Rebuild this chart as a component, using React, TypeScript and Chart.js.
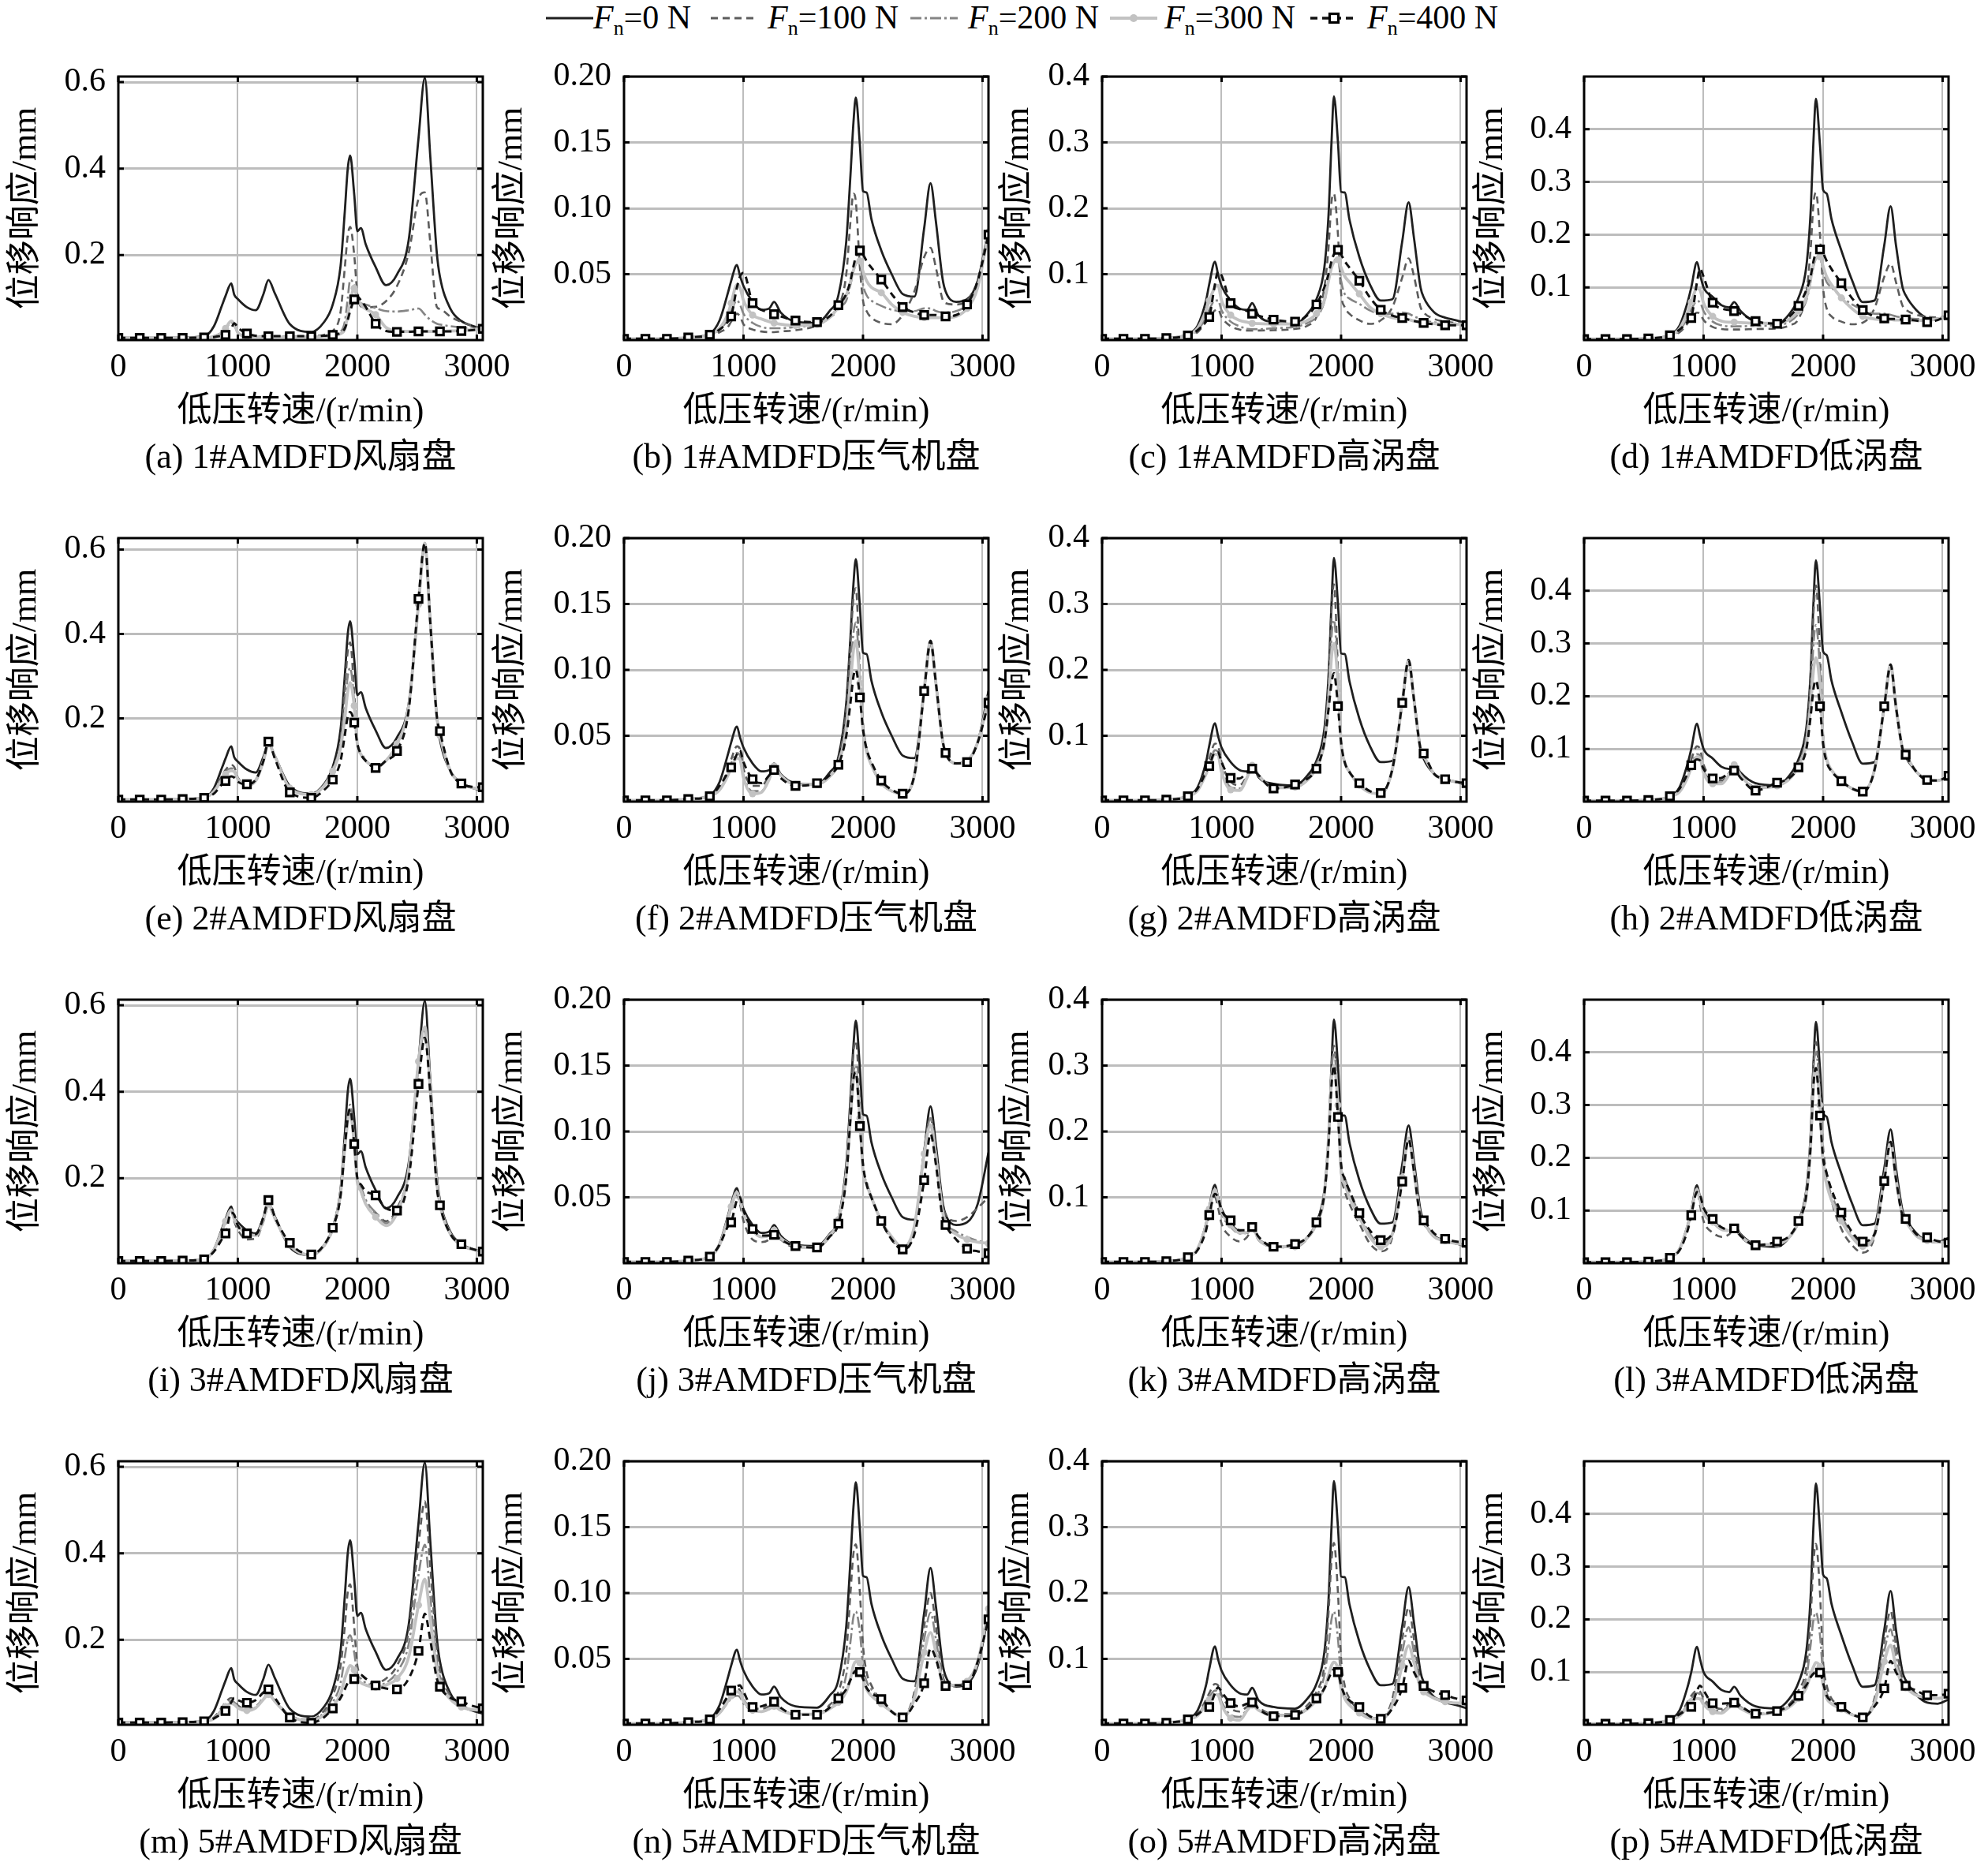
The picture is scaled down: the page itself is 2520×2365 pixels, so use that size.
import React, { useEffect, useRef } from 'react';
import { Chart, registerables } from 'chart.js';

Chart.register(...registerables);

const FONT = "'Liberation Serif', 'Times New Roman', 'Noto Sans CJK SC', serif";

// ---------------- data ----------------
const rpm = [0, 179, 359, 538, 718, 800, 870, 897, 945, 970, 1000, 1076, 1150, 1215, 1256, 1310, 1435, 1615, 1720, 1794, 1860, 1895, 1920, 1940, 1974, 2000, 2030, 2070, 2153, 2240, 2332, 2430, 2512, 2565, 2610, 2665, 2691, 2780, 2871, 2960, 3050];
const markerRpm = [0, 179, 359, 538, 718, 897, 1076, 1256, 1435, 1615, 1794, 1974, 2153, 2332, 2512, 2691, 2871, 3050];
const xTickValues = [0, 1000, 2000, 3000];
const forceLabels = ['0', '100', '200', '300', '400'];
const yTicksFan = [0.2, 0.4, 0.6];
const yTicksComp = [0.05, 0.1, 0.15, 0.2];
const yTicksHpt = [0.1, 0.2, 0.3, 0.4];
const yTicksLpt = [0.1, 0.2, 0.3, 0.4];

// Fn = 0 N (same system in every row)
const fan0 = [0.008,0.008,0.008,0.009,0.012, 0.035,0.085,0.105,0.134,0.108, 0.098,0.079,0.072,0.11,0.142, 0.111,0.04,0.022,0.044,0.085, 0.175,0.3,0.4,0.43,0.34, 0.255,0.262,0.225,0.172,0.13, 0.155,0.235,0.47,0.61,0.43, 0.205,0.15,0.075,0.047,0.036,0.029];
const comp0 = [0.001,0.001,0.001,0.002,0.005, 0.015,0.036,0.045,0.057,0.049, 0.041,0.029,0.023,0.024,0.029, 0.021,0.014,0.013,0.022,0.034, 0.075,0.125,0.165,0.184,0.148, 0.113,0.112,0.092,0.068,0.05, 0.035,0.033,0.085,0.119,0.09, 0.047,0.037,0.029,0.031,0.045,0.084];
const hpt0 = [0.002,0.002,0.002,0.003,0.009, 0.022,0.06,0.085,0.119,0.1, 0.082,0.06,0.048,0.046,0.056, 0.037,0.027,0.0245,0.04,0.062, 0.11,0.19,0.3,0.37,0.3, 0.225,0.224,0.183,0.126,0.085, 0.06,0.062,0.15,0.209,0.155, 0.08,0.065,0.042,0.034,0.03,0.025];
const lpt0 = [0.002,0.002,0.002,0.003,0.01, 0.028,0.075,0.1,0.148,0.125, 0.1,0.082,0.066,0.062,0.072, 0.055,0.035,0.031,0.05,0.08, 0.14,0.24,0.38,0.458,0.37, 0.285,0.278,0.23,0.17,0.115, 0.072,0.075,0.18,0.254,0.18, 0.1,0.085,0.057,0.042,0.04,0.048];

// 1# AMDFD
const a100 = [0.008,0.008,0.008,0.008,0.009, 0.012,0.022,0.03,0.045,0.04, 0.02,0.012,0.011,0.011,0.011, 0.011,0.011,0.012,0.015,0.024, 0.069,0.17,0.245,0.265,0.2, 0.11,0.081,0.079,0.08,0.093, 0.128,0.205,0.33,0.345,0.23, 0.08,0.075,0.057,0.045,0.036,0.029];
const a200 = [0.008,0.008,0.008,0.008,0.009, 0.011,0.02,0.028,0.044,0.038, 0.02,0.011,0.01,0.01,0.01, 0.01,0.01,0.01,0.012,0.015, 0.022,0.045,0.1,0.142,0.13, 0.095,0.088,0.085,0.077,0.07, 0.069,0.072,0.076,0.062,0.05, 0.041,0.039,0.035,0.032,0.03,0.029];
const a300 = [0.008,0.008,0.008,0.008,0.009, 0.011,0.021,0.03,0.047,0.04, 0.02,0.011,0.01,0.01,0.01, 0.01,0.01,0.01,0.011,0.013, 0.018,0.028,0.06,0.09,0.123, 0.1,0.085,0.075,0.062,0.032, 0.024,0.023,0.023,0.023,0.023, 0.023,0.023,0.024,0.025,0.027,0.029];
const a400 = [0.008,0.008,0.008,0.008,0.009, 0.01,0.013,0.015,0.03,0.042, 0.032,0.018,0.013,0.012,0.012, 0.012,0.012,0.012,0.013,0.015, 0.02,0.03,0.05,0.07,0.097, 0.104,0.095,0.08,0.041,0.024, 0.022,0.022,0.023,0.023,0.023, 0.023,0.023,0.023,0.024,0.026,0.029];
const b100 = [0.001,0.001,0.001,0.002,0.003, 0.006,0.01,0.014,0.02,0.018, 0.012,0.008,0.0065,0.006,0.006, 0.0065,0.0075,0.011,0.017,0.025, 0.05,0.09,0.111,0.105,0.055, 0.03,0.022,0.017,0.013,0.012, 0.019,0.037,0.063,0.07,0.055, 0.031,0.028,0.027,0.03,0.045,0.083];
const b200 = [0.001,0.001,0.001,0.002,0.004, 0.008,0.016,0.022,0.03,0.027, 0.02,0.013,0.01,0.009,0.009, 0.009,0.01,0.012,0.017,0.025, 0.03,0.042,0.052,0.058,0.06, 0.042,0.034,0.03,0.026,0.023, 0.022,0.022,0.024,0.024,0.022, 0.021,0.021,0.022,0.027,0.042,0.083];
const b300 = [0.001,0.001,0.001,0.002,0.004, 0.009,0.02,0.028,0.042,0.04, 0.03,0.019,0.016,0.014,0.013, 0.012,0.011,0.012,0.017,0.025, 0.034,0.044,0.053,0.058,0.06, 0.052,0.045,0.04,0.036,0.027, 0.021,0.018,0.017,0.017,0.017, 0.017,0.017,0.018,0.024,0.04,0.082];
const b400 = [0.001,0.001,0.001,0.002,0.004, 0.008,0.014,0.018,0.04,0.048, 0.051,0.028,0.023,0.021,0.0196, 0.018,0.0148,0.0136,0.018,0.0265, 0.035,0.045,0.056,0.063,0.068, 0.065,0.06,0.055,0.046,0.035, 0.025,0.021,0.019,0.019,0.019, 0.018,0.018,0.019,0.027,0.045,0.08];
const c100 = [0.002,0.002,0.002,0.003,0.006, 0.012,0.028,0.036,0.045,0.047, 0.035,0.021,0.016,0.0145,0.0145, 0.0145,0.015,0.017,0.022,0.035, 0.08,0.14,0.21,0.222,0.16, 0.072,0.05,0.04,0.03,0.0245, 0.03,0.05,0.095,0.124,0.097, 0.05,0.042,0.032,0.028,0.026,0.0245];
const c200 = [0.002,0.002,0.002,0.003,0.007, 0.015,0.035,0.046,0.06,0.06, 0.045,0.028,0.021,0.017,0.0165, 0.0165,0.018,0.02,0.026,0.035, 0.058,0.09,0.112,0.12,0.124, 0.09,0.07,0.063,0.055,0.045, 0.04,0.04,0.042,0.04,0.036, 0.032,0.03,0.027,0.026,0.025,0.0245];
const c300 = [0.002,0.002,0.002,0.003,0.008, 0.018,0.045,0.06,0.08,0.083, 0.06,0.038,0.03,0.027,0.0255, 0.025,0.0245,0.0245,0.03,0.04, 0.06,0.09,0.11,0.118,0.122, 0.11,0.097,0.088,0.07,0.05, 0.04,0.034,0.032,0.031,0.029, 0.027,0.026,0.025,0.024,0.024,0.0235];
const c400 = [0.002,0.002,0.002,0.003,0.007, 0.015,0.028,0.035,0.085,0.104, 0.098,0.056,0.047,0.044,0.04, 0.037,0.031,0.028,0.038,0.054, 0.08,0.1,0.12,0.13,0.137, 0.13,0.12,0.11,0.09,0.065, 0.046,0.037,0.0335,0.031,0.029, 0.027,0.026,0.024,0.0225,0.0225,0.0225];
const d100 = [0.002,0.002,0.002,0.003,0.007, 0.015,0.033,0.042,0.052,0.05, 0.038,0.025,0.021,0.02,0.02, 0.02,0.021,0.022,0.028,0.04, 0.09,0.17,0.26,0.28,0.2, 0.1,0.06,0.045,0.035,0.03, 0.033,0.06,0.12,0.145,0.11, 0.065,0.058,0.048,0.044,0.043,0.045];
const d200 = [0.002,0.002,0.002,0.003,0.008, 0.018,0.045,0.058,0.074,0.072, 0.055,0.035,0.028,0.026,0.026, 0.026,0.027,0.028,0.035,0.05, 0.075,0.11,0.14,0.155,0.161, 0.13,0.11,0.1,0.082,0.068, 0.058,0.05,0.05,0.048,0.045, 0.043,0.042,0.04,0.04,0.041,0.045];
const d300 = [0.002,0.002,0.002,0.003,0.009, 0.022,0.055,0.072,0.098,0.095, 0.07,0.045,0.036,0.034,0.034, 0.033,0.032,0.032,0.04,0.055, 0.08,0.115,0.145,0.155,0.158, 0.14,0.12,0.105,0.08,0.06, 0.045,0.04,0.039,0.039,0.038, 0.038,0.037,0.037,0.038,0.04,0.045];
const d400 = [0.002,0.002,0.002,0.003,0.009, 0.02,0.035,0.042,0.11,0.135, 0.12,0.071,0.06,0.057,0.055, 0.05,0.036,0.031,0.045,0.065, 0.095,0.12,0.15,0.165,0.172, 0.165,0.15,0.135,0.108,0.08, 0.057,0.045,0.041,0.04,0.04, 0.039,0.039,0.037,0.034,0.038,0.047];

// 2# AMDFD
const e100 = [0.008,0.008,0.008,0.009,0.012, 0.03,0.065,0.078,0.09,0.085, 0.06,0.045,0.055,0.1,0.14, 0.11,0.035,0.02,0.042,0.082, 0.15,0.27,0.36,0.38,0.26, 0.14,0.12,0.1,0.085,0.1, 0.14,0.23,0.47,0.615,0.43, 0.205,0.16,0.075,0.047,0.036,0.033];
const e200 = [0.008,0.008,0.008,0.009,0.012, 0.028,0.06,0.072,0.082,0.078, 0.058,0.043,0.053,0.1,0.14, 0.11,0.035,0.02,0.04,0.078, 0.14,0.23,0.3,0.32,0.24, 0.14,0.115,0.1,0.085,0.1, 0.14,0.23,0.47,0.615,0.43, 0.205,0.16,0.075,0.047,0.036,0.033];
const e300 = [0.008,0.008,0.008,0.009,0.012, 0.027,0.056,0.068,0.076,0.074, 0.056,0.042,0.052,0.1,0.14, 0.11,0.035,0.02,0.04,0.075, 0.13,0.2,0.265,0.285,0.23, 0.14,0.115,0.1,0.085,0.1, 0.14,0.23,0.47,0.615,0.43, 0.205,0.16,0.075,0.047,0.036,0.033];
const e400 = [0.008,0.008,0.008,0.009,0.012, 0.022,0.045,0.052,0.063,0.06, 0.05,0.044,0.055,0.1,0.145, 0.105,0.025,0.012,0.03,0.055, 0.1,0.16,0.205,0.215,0.19, 0.14,0.115,0.1,0.083,0.1, 0.123,0.22,0.483,0.615,0.43, 0.205,0.17,0.075,0.046,0.038,0.037];
const f100 = [0.001,0.001,0.001,0.002,0.004, 0.01,0.025,0.032,0.042,0.04, 0.025,0.012,0.012,0.02,0.027, 0.02,0.013,0.013,0.02,0.032, 0.07,0.12,0.155,0.162,0.1, 0.06,0.04,0.028,0.014,0.008, 0.006,0.02,0.085,0.122,0.09, 0.047,0.037,0.029,0.031,0.045,0.078];
const f200 = [0.001,0.001,0.001,0.002,0.004, 0.009,0.022,0.029,0.037,0.035, 0.02,0.008,0.008,0.018,0.027, 0.02,0.013,0.013,0.019,0.03, 0.06,0.1,0.128,0.136,0.095, 0.055,0.038,0.028,0.014,0.008, 0.006,0.02,0.085,0.122,0.09, 0.047,0.037,0.029,0.031,0.045,0.078];
const f300 = [0.001,0.001,0.001,0.002,0.004, 0.009,0.02,0.026,0.033,0.032, 0.018,0.006,0.007,0.017,0.027, 0.02,0.013,0.013,0.019,0.029, 0.055,0.09,0.115,0.122,0.09, 0.055,0.038,0.028,0.014,0.008, 0.006,0.02,0.085,0.122,0.09, 0.047,0.037,0.029,0.031,0.045,0.078];
const f400 = [0.001,0.001,0.001,0.002,0.004, 0.012,0.022,0.026,0.036,0.039, 0.03,0.017,0.014,0.02,0.024, 0.018,0.012,0.014,0.02,0.028, 0.05,0.075,0.095,0.1,0.079, 0.055,0.04,0.03,0.016,0.009, 0.006,0.02,0.084,0.122,0.09, 0.047,0.037,0.029,0.03,0.045,0.075];
const g100 = [0.002,0.002,0.002,0.003,0.008, 0.02,0.05,0.065,0.088,0.085, 0.06,0.03,0.025,0.04,0.055, 0.04,0.022,0.022,0.035,0.058, 0.1,0.18,0.29,0.33,0.2, 0.09,0.06,0.045,0.025,0.014, 0.012,0.05,0.15,0.215,0.155, 0.08,0.07,0.042,0.034,0.03,0.028];
const g200 = [0.002,0.002,0.002,0.003,0.008, 0.018,0.045,0.058,0.078,0.076, 0.05,0.022,0.02,0.038,0.055, 0.04,0.021,0.022,0.034,0.055, 0.095,0.16,0.25,0.276,0.19, 0.09,0.06,0.045,0.025,0.014, 0.012,0.05,0.15,0.215,0.155, 0.08,0.07,0.042,0.034,0.03,0.028];
const g300 = [0.002,0.002,0.002,0.003,0.008, 0.017,0.042,0.054,0.072,0.071, 0.045,0.018,0.017,0.037,0.055, 0.04,0.021,0.022,0.033,0.052, 0.09,0.15,0.22,0.24,0.18, 0.09,0.06,0.045,0.025,0.014, 0.012,0.05,0.15,0.215,0.155, 0.08,0.07,0.042,0.034,0.03,0.028];
const g400 = [0.002,0.002,0.002,0.003,0.008, 0.02,0.045,0.054,0.075,0.075, 0.06,0.036,0.035,0.045,0.05, 0.04,0.02,0.026,0.035,0.05, 0.09,0.14,0.18,0.195,0.145, 0.09,0.06,0.045,0.028,0.016, 0.013,0.05,0.15,0.215,0.155, 0.08,0.073,0.042,0.034,0.03,0.028];
const h100 = [0.002,0.002,0.002,0.003,0.009, 0.022,0.06,0.08,0.105,0.1, 0.07,0.045,0.04,0.055,0.07, 0.05,0.028,0.03,0.045,0.072, 0.13,0.23,0.36,0.41,0.28, 0.13,0.08,0.06,0.04,0.025, 0.02,0.06,0.18,0.26,0.18, 0.1,0.089,0.057,0.042,0.04,0.048];
const h200 = [0.002,0.002,0.002,0.003,0.009, 0.02,0.052,0.07,0.09,0.088, 0.06,0.038,0.036,0.053,0.07, 0.05,0.027,0.03,0.044,0.07, 0.12,0.2,0.3,0.335,0.25, 0.12,0.08,0.06,0.04,0.025, 0.02,0.06,0.18,0.26,0.18, 0.1,0.089,0.057,0.042,0.04,0.048];
const h300 = [0.002,0.002,0.002,0.003,0.009, 0.019,0.048,0.065,0.085,0.083, 0.055,0.034,0.034,0.052,0.07, 0.05,0.026,0.03,0.043,0.068, 0.11,0.18,0.25,0.273,0.22, 0.12,0.08,0.06,0.04,0.025, 0.02,0.06,0.18,0.26,0.18, 0.1,0.089,0.057,0.042,0.04,0.048];
const h400 = [0.002,0.002,0.002,0.003,0.01, 0.025,0.055,0.069,0.08,0.078, 0.062,0.044,0.045,0.055,0.059, 0.045,0.021,0.036,0.045,0.065, 0.1,0.16,0.215,0.23,0.181, 0.11,0.075,0.058,0.039,0.025, 0.019,0.06,0.181,0.26,0.18, 0.1,0.089,0.057,0.041,0.04,0.049];

// 3# AMDFD
const i100 = [0.008,0.008,0.008,0.009,0.012, 0.033,0.08,0.1,0.125,0.1, 0.08,0.058,0.06,0.1,0.135, 0.105,0.042,0.022,0.042,0.082, 0.165,0.27,0.34,0.36,0.28, 0.2,0.17,0.14,0.12,0.1, 0.13,0.22,0.46,0.54,0.4, 0.19,0.14,0.07,0.045,0.035,0.03];
const i200 = [0.008,0.008,0.008,0.009,0.012, 0.034,0.082,0.102,0.128,0.105, 0.09,0.072,0.068,0.105,0.14, 0.108,0.045,0.022,0.043,0.083, 0.17,0.28,0.35,0.37,0.29, 0.2,0.18,0.15,0.12,0.095, 0.125,0.22,0.47,0.55,0.41, 0.19,0.14,0.07,0.045,0.035,0.03];
const i300 = [0.008,0.008,0.008,0.009,0.012, 0.034,0.08,0.1,0.126,0.105, 0.09,0.072,0.067,0.105,0.14, 0.107,0.045,0.022,0.043,0.083, 0.165,0.27,0.33,0.35,0.28, 0.19,0.17,0.14,0.11,0.09, 0.12,0.22,0.47,0.55,0.41, 0.19,0.14,0.07,0.045,0.035,0.03];
const i400 = [0.008,0.008,0.008,0.009,0.012, 0.03,0.06,0.072,0.12,0.115, 0.09,0.072,0.07,0.11,0.149, 0.11,0.05,0.023,0.045,0.085, 0.16,0.27,0.34,0.36,0.279, 0.2,0.185,0.17,0.16,0.13, 0.125,0.2,0.418,0.525,0.4, 0.18,0.137,0.07,0.047,0.036,0.03];
const j100 = [0.001,0.001,0.001,0.002,0.005, 0.014,0.033,0.042,0.052,0.045, 0.032,0.018,0.016,0.018,0.023, 0.018,0.012,0.012,0.02,0.032, 0.07,0.12,0.16,0.169,0.12, 0.07,0.061,0.05,0.032,0.018, 0.01,0.025,0.085,0.11,0.085, 0.045,0.037,0.032,0.035,0.042,0.05];
const j200 = [0.001,0.001,0.001,0.002,0.005, 0.014,0.034,0.043,0.054,0.048, 0.038,0.025,0.02,0.021,0.025, 0.019,0.013,0.012,0.021,0.033, 0.07,0.115,0.145,0.15,0.11, 0.07,0.062,0.05,0.032,0.02, 0.012,0.028,0.085,0.11,0.085, 0.042,0.032,0.024,0.02,0.017,0.015];
const j300 = [0.001,0.001,0.001,0.002,0.005, 0.014,0.034,0.043,0.054,0.048, 0.038,0.025,0.02,0.021,0.025, 0.019,0.013,0.012,0.021,0.033, 0.068,0.11,0.14,0.145,0.11, 0.07,0.06,0.05,0.032,0.02, 0.012,0.028,0.083,0.105,0.08, 0.04,0.03,0.022,0.018,0.016,0.015];
const j400 = [0.001,0.001,0.001,0.002,0.005, 0.014,0.028,0.031,0.048,0.05, 0.04,0.026,0.021,0.021,0.0215, 0.018,0.013,0.012,0.02,0.03, 0.065,0.11,0.14,0.145,0.104, 0.075,0.06,0.05,0.032,0.018, 0.0105,0.022,0.063,0.098,0.075, 0.035,0.029,0.018,0.011,0.009,0.0075];
const k100 = [0.002,0.002,0.002,0.003,0.009, 0.021,0.056,0.078,0.1,0.085, 0.06,0.04,0.033,0.04,0.052, 0.035,0.025,0.024,0.038,0.06, 0.105,0.19,0.3,0.33,0.25, 0.14,0.11,0.09,0.06,0.03, 0.018,0.04,0.13,0.188,0.14, 0.07,0.06,0.04,0.034,0.03,0.028];
const k200 = [0.002,0.002,0.002,0.003,0.009, 0.022,0.058,0.082,0.11,0.095, 0.075,0.055,0.045,0.046,0.055, 0.036,0.026,0.025,0.039,0.06, 0.105,0.19,0.29,0.32,0.25, 0.15,0.13,0.11,0.075,0.045, 0.03,0.045,0.13,0.19,0.14, 0.07,0.062,0.04,0.034,0.03,0.028];
const k300 = [0.002,0.002,0.002,0.003,0.009, 0.022,0.058,0.082,0.112,0.097, 0.078,0.058,0.046,0.047,0.055, 0.036,0.026,0.025,0.039,0.06, 0.105,0.19,0.28,0.3,0.24, 0.14,0.12,0.1,0.07,0.04, 0.025,0.045,0.13,0.19,0.14, 0.07,0.062,0.04,0.034,0.03,0.028];
const k400 = [0.002,0.002,0.002,0.003,0.009, 0.02,0.05,0.073,0.105,0.1, 0.08,0.065,0.05,0.05,0.055, 0.04,0.025,0.029,0.04,0.062, 0.105,0.18,0.27,0.3,0.222, 0.15,0.128,0.11,0.076,0.05, 0.035,0.045,0.124,0.188,0.14, 0.07,0.065,0.045,0.037,0.033,0.031];
const l100 = [0.002,0.002,0.002,0.003,0.01, 0.027,0.072,0.097,0.14,0.11, 0.08,0.058,0.05,0.055,0.066, 0.05,0.034,0.035,0.05,0.078, 0.135,0.23,0.38,0.42,0.33, 0.22,0.17,0.12,0.065,0.035, 0.02,0.05,0.16,0.23,0.16, 0.09,0.08,0.055,0.045,0.04,0.04];
const l200 = [0.002,0.002,0.002,0.003,0.01, 0.027,0.073,0.098,0.142,0.12, 0.095,0.078,0.064,0.062,0.068, 0.052,0.035,0.036,0.05,0.078, 0.135,0.23,0.37,0.4,0.32, 0.2,0.16,0.13,0.09,0.055, 0.035,0.055,0.16,0.23,0.16, 0.09,0.08,0.052,0.043,0.04,0.04];
const l300 = [0.002,0.002,0.002,0.003,0.01, 0.027,0.073,0.097,0.14,0.12, 0.095,0.078,0.064,0.062,0.068, 0.052,0.035,0.036,0.05,0.078, 0.13,0.22,0.34,0.37,0.3, 0.19,0.15,0.12,0.08,0.05, 0.032,0.055,0.16,0.23,0.16, 0.09,0.08,0.052,0.043,0.04,0.04];
const l400 = [0.002,0.002,0.002,0.003,0.01, 0.025,0.065,0.091,0.135,0.13, 0.105,0.084,0.068,0.064,0.066, 0.052,0.034,0.041,0.052,0.08, 0.13,0.22,0.34,0.37,0.28, 0.2,0.17,0.14,0.096,0.06, 0.041,0.055,0.156,0.23,0.16, 0.09,0.084,0.055,0.049,0.042,0.039];

// 5# AMDFD
const m100 = [0.008,0.008,0.008,0.009,0.011, 0.02,0.045,0.055,0.065,0.06, 0.048,0.04,0.045,0.065,0.075, 0.06,0.025,0.015,0.035,0.07, 0.14,0.23,0.31,0.328,0.23, 0.14,0.12,0.11,0.1,0.11, 0.14,0.22,0.42,0.52,0.37, 0.18,0.13,0.07,0.047,0.038,0.035];
const m200 = [0.008,0.008,0.008,0.009,0.011, 0.018,0.04,0.05,0.058,0.055, 0.045,0.038,0.043,0.063,0.075, 0.058,0.024,0.014,0.03,0.055, 0.1,0.16,0.2,0.21,0.17, 0.12,0.11,0.1,0.095,0.1, 0.125,0.19,0.35,0.42,0.3, 0.15,0.115,0.065,0.045,0.038,0.035];
const m300 = [0.008,0.008,0.008,0.009,0.011, 0.017,0.036,0.045,0.052,0.05, 0.042,0.036,0.042,0.062,0.073, 0.057,0.023,0.013,0.025,0.045, 0.075,0.11,0.13,0.14,0.13, 0.11,0.1,0.095,0.09,0.095, 0.11,0.16,0.28,0.34,0.25, 0.13,0.1,0.062,0.044,0.038,0.037];
const m400 = [0.008,0.008,0.008,0.009,0.011, 0.018,0.03,0.035,0.055,0.065, 0.06,0.054,0.06,0.078,0.085, 0.065,0.02,0.0075,0.02,0.041, 0.065,0.085,0.1,0.105,0.109, 0.115,0.118,0.11,0.094,0.087, 0.085,0.11,0.174,0.26,0.2, 0.11,0.091,0.065,0.057,0.047,0.041];
const n100 = [0.001,0.001,0.001,0.002,0.004, 0.01,0.02,0.024,0.028,0.026, 0.019,0.013,0.012,0.014,0.016, 0.012,0.008,0.008,0.015,0.025, 0.055,0.1,0.13,0.137,0.1, 0.06,0.04,0.03,0.018,0.01, 0.006,0.025,0.075,0.1,0.075, 0.038,0.032,0.03,0.033,0.048,0.088];
const n200 = [0.001,0.001,0.001,0.002,0.004, 0.009,0.017,0.02,0.022,0.021, 0.016,0.011,0.01,0.012,0.014, 0.011,0.008,0.008,0.013,0.02, 0.038,0.063,0.082,0.086,0.07, 0.045,0.033,0.027,0.018,0.01, 0.006,0.022,0.065,0.085,0.065, 0.035,0.031,0.03,0.033,0.048,0.088];
const n300 = [0.001,0.001,0.001,0.002,0.004, 0.009,0.018,0.022,0.025,0.024, 0.018,0.011,0.01,0.012,0.014, 0.011,0.008,0.008,0.012,0.017, 0.025,0.035,0.045,0.048,0.047, 0.035,0.027,0.022,0.016,0.01, 0.006,0.02,0.055,0.07,0.055, 0.033,0.03,0.03,0.033,0.048,0.088];
const n400 = [0.001,0.001,0.001,0.002,0.004, 0.012,0.022,0.026,0.029,0.03, 0.025,0.0135,0.014,0.016,0.0175, 0.013,0.0076,0.0076,0.013,0.02, 0.027,0.034,0.039,0.041,0.04, 0.035,0.028,0.024,0.0195,0.01, 0.0056,0.016,0.0315,0.058,0.05, 0.032,0.0295,0.03,0.03,0.048,0.08];
const o100 = [0.002,0.002,0.002,0.003,0.008, 0.016,0.038,0.048,0.062,0.06, 0.045,0.025,0.02,0.028,0.035, 0.026,0.016,0.016,0.03,0.05, 0.09,0.17,0.25,0.276,0.2, 0.1,0.06,0.04,0.022,0.012, 0.01,0.04,0.13,0.178,0.13, 0.065,0.055,0.042,0.036,0.033,0.033];
const o200 = [0.002,0.002,0.002,0.003,0.008, 0.015,0.034,0.042,0.052,0.05, 0.035,0.015,0.012,0.024,0.033, 0.024,0.015,0.015,0.026,0.043, 0.075,0.12,0.16,0.172,0.13, 0.07,0.045,0.035,0.02,0.011, 0.009,0.035,0.11,0.148,0.11, 0.06,0.052,0.04,0.035,0.033,0.033];
const o300 = [0.002,0.002,0.002,0.003,0.008, 0.014,0.031,0.038,0.046,0.045, 0.03,0.01,0.007,0.022,0.03, 0.022,0.014,0.015,0.024,0.037, 0.055,0.075,0.09,0.095,0.085, 0.055,0.04,0.03,0.018,0.01, 0.009,0.03,0.09,0.12,0.095, 0.055,0.05,0.04,0.035,0.033,0.033];
const o400 = [0.002,0.002,0.002,0.003,0.008, 0.016,0.025,0.027,0.048,0.057, 0.05,0.033,0.028,0.032,0.034, 0.024,0.013,0.015,0.025,0.04, 0.055,0.07,0.08,0.084,0.08, 0.06,0.045,0.037,0.027,0.013, 0.009,0.025,0.056,0.097,0.08, 0.062,0.059,0.05,0.045,0.04,0.037];
const p100 = [0.002,0.002,0.002,0.003,0.009, 0.02,0.045,0.055,0.065,0.063, 0.05,0.035,0.03,0.04,0.048, 0.036,0.022,0.026,0.04,0.065, 0.11,0.2,0.31,0.343,0.25, 0.12,0.075,0.05,0.035,0.02, 0.015,0.05,0.16,0.216,0.15, 0.085,0.075,0.058,0.052,0.05,0.055];
const p200 = [0.002,0.002,0.002,0.003,0.009, 0.018,0.04,0.05,0.06,0.058, 0.045,0.03,0.026,0.037,0.045, 0.034,0.021,0.025,0.037,0.058, 0.09,0.15,0.2,0.213,0.17, 0.095,0.06,0.045,0.032,0.02, 0.015,0.045,0.14,0.181,0.13, 0.08,0.072,0.056,0.052,0.05,0.055];
const p300 = [0.002,0.002,0.002,0.003,0.009, 0.017,0.036,0.044,0.05,0.049, 0.038,0.025,0.022,0.033,0.04, 0.031,0.02,0.024,0.034,0.05, 0.07,0.095,0.11,0.118,0.11, 0.075,0.05,0.04,0.03,0.019, 0.015,0.04,0.12,0.151,0.11, 0.075,0.07,0.056,0.052,0.05,0.055];
const p400 = [0.002,0.002,0.002,0.003,0.009, 0.02,0.03,0.034,0.065,0.074, 0.065,0.041,0.04,0.041,0.042, 0.035,0.021,0.026,0.037,0.055, 0.075,0.09,0.097,0.1,0.099, 0.08,0.055,0.045,0.034,0.02, 0.014,0.035,0.069,0.121,0.1, 0.08,0.074,0.065,0.056,0.056,0.059];

const captions = [
  '(a) 1#AMDFD风扇盘', '(b) 1#AMDFD压气机盘', '(c) 1#AMDFD高涡盘', '(d) 1#AMDFD低涡盘',
  '(e) 2#AMDFD风扇盘', '(f) 2#AMDFD压气机盘', '(g) 2#AMDFD高涡盘', '(h) 2#AMDFD低涡盘',
  '(i) 3#AMDFD风扇盘', '(j) 3#AMDFD压气机盘', '(k) 3#AMDFD高涡盘', '(l) 3#AMDFD低涡盘',
  '(m) 5#AMDFD风扇盘', '(n) 5#AMDFD压气机盘', '(o) 5#AMDFD高涡盘', '(p) 5#AMDFD低涡盘',
];
const xTitle = '低压转速/(r/min)';
const yTitle = '位移响应/mm';

const seriesByPanel = [
  [fan0, a100, a200, a300, a400], [comp0, b100, b200, b300, b400], [hpt0, c100, c200, c300, c400], [lpt0, d100, d200, d300, d400],
  [fan0, e100, e200, e300, e400], [comp0, f100, f200, f300, f400], [hpt0, g100, g200, g300, g400], [lpt0, h100, h200, h300, h400],
  [fan0, i100, i200, i300, i400], [comp0, j100, j200, j300, j400], [hpt0, k100, k200, k300, k400], [lpt0, l100, l200, l300, l400],
  [fan0, m100, m200, m300, m400], [comp0, n100, n200, n300, n400], [hpt0, o100, o200, o300, o400], [lpt0, p100, p200, p300, p400],
];

// axis ranges per column / row
const yMinByCol = [0.003, 0, 0, 0];
const yMaxFanByRow = [0.613, 0.627, 0.613, 0.613];
const yMaxByCol = [0.613, 0.2, 0.4, 0.5];
const yTicksByCol = [yTicksFan, yTicksComp, yTicksHpt, yTicksLpt];
const yDecByCol = [1, 2, 1, 1];

// ---------------- layout (pixels) ----------------
const plotLeft = [150, 791, 1397, 2008];
const plotW = 462;
const yTitleX = [33, 649, 1291, 1892];
const rowTop = [97, 682, 1267, 1852];
const plotH = 334;
const PAD_TOP = 46;
const PAD_RIGHT = 64;
const X_AXIS_H = 118;
const TITLE_PAD_TOP = 6;
const TITLE_FONT = 44;
const TITLE_H = TITLE_PAD_TOP + TITLE_FONT * 1.2;
const CANVAS_H = 565;
const PAD_BOTTOM = CANVAS_H - PAD_TOP - plotH - X_AXIS_H - TITLE_H;

const styles = [
  { color: '#1f1f1f', width: 2.8, dash: [] as number[] },
  { color: '#5c5c5c', width: 2.6, dash: [9, 6] },
  { color: '#858585', width: 2.6, dash: [14, 4, 3, 4] },
  { color: '#c2c2c2', width: 3.8, dash: [] as number[] },
  { color: '#111111', width: 3, dash: [9, 6] },
];

const isMarker = (i: number) => markerRpm.indexOf(rpm[i]) >= 0;

const framePlugin = {
  id: 'frame',
  afterDatasetsDraw(chart: any) {
    const { ctx, chartArea } = chart;
    const { left, right, top, bottom } = chartArea;
    const xs = chart.scales.x;
    const ys = chart.scales.y;
    ctx.save();
    ctx.strokeStyle = '#000';
    ctx.lineWidth = 3;
    ctx.strokeRect(left, top, right - left, bottom - top);
    ctx.beginPath();
    for (const t of ys.ticks) {
      const py = ys.getPixelForValue(t.value);
      ctx.moveTo(left, py); ctx.lineTo(left + 7, py);
      ctx.moveTo(right, py); ctx.lineTo(right - 7, py);
    }
    for (const t of xs.ticks) {
      const px = xs.getPixelForValue(t.value);
      ctx.moveTo(px, bottom); ctx.lineTo(px, bottom - 7);
      ctx.moveTo(px, top); ctx.lineTo(px, top + 7);
    }
    ctx.stroke();
    ctx.restore();
  },
};

function PanelChart({ idx }: { idx: number }) {
  const ref = useRef<HTMLCanvasElement>(null);
  const col = idx % 4;
  const row = Math.floor(idx / 4);
  const L = Math.round(yTitleX[col] - TITLE_FONT * 0.6);
  const T = rowTop[row] - PAD_TOP;
  const W = plotLeft[col] + plotW + PAD_RIGHT - L;
  const yAxisW = plotLeft[col] - L;

  useEffect(() => {
    if (!ref.current) return;
    const series = seriesByPanel[idx];
    const yMax = col === 0 ? yMaxFanByRow[row] : yMaxByCol[col];
    const yTicks = yTicksByCol[col];
    const dec = yDecByCol[col];
    const datasets = series.map((arr, k) => {
      const st = styles[k];
      const isRect = k === 4;
      const hasPts = k >= 3;
      return {
        label: 'Fn=' + forceLabels[k] + ' N',
        data: rpm.map((x, i) => ({ x, y: arr[i] })),
        borderColor: st.color,
        borderWidth: st.width,
        borderDash: st.dash,
        cubicInterpolationMode: 'monotone' as const,
        fill: false,
        order: 4 - k,
        pointStyle: isRect ? 'rect' : 'circle',
        pointRadius: hasPts ? (c: any) => (isMarker(c.dataIndex) ? (isRect ? 6.5 : 4.5) : 0) : 0,
        pointBackgroundColor: isRect ? '#ffffff' : st.color,
        pointBorderColor: isRect ? '#000000' : st.color,
        pointBorderWidth: isRect ? 3.2 : 0,
      };
    });
    const chart = new Chart(ref.current, {
      type: 'line',
      data: { datasets },
      plugins: [framePlugin],
      options: {
        animation: false,
        responsive: false,
        maintainAspectRatio: false,
        devicePixelRatio: 1,
        events: [],
        layout: { padding: { left: 0, top: PAD_TOP, right: PAD_RIGHT, bottom: PAD_BOTTOM } },
        plugins: {
          legend: { display: false },
          tooltip: { enabled: false },
          title: {
            display: true,
            text: captions[idx],
            position: 'bottom',
            fullSize: false,
            color: '#000',
            font: { family: FONT, size: TITLE_FONT, weight: 'normal', lineHeight: 1.2 },
            padding: { top: TITLE_PAD_TOP, bottom: 0 },
          },
        },
        scales: {
          x: {
            type: 'linear',
            min: 0,
            max: 3050,
            afterBuildTicks: (s: any) => { s.ticks = xTickValues.map((v) => ({ value: v })); },
            afterFit: (s: any) => { s.height = X_AXIS_H; },
            ticks: {
              autoSkip: false,
              maxRotation: 0,
              padding: 10,
              color: '#000',
              font: { family: FONT, size: 42, lineHeight: 1.2 },
              callback: (v: any) => String(v),
            },
            grid: { color: '#bdbdbd', lineWidth: 2, drawTicks: false },
            border: { display: false },
            title: {
              display: true,
              text: xTitle,
              color: '#000',
              font: { family: FONT, size: TITLE_FONT, lineHeight: 1.2 },
              padding: 0,
            },
          },
          y: {
            type: 'linear',
            min: yMinByCol[col],
            max: yMax,
            afterBuildTicks: (s: any) => { s.ticks = yTicks.map((v) => ({ value: v })); },
            afterFit: (s: any) => { s.width = yAxisW; },
            ticks: {
              padding: 16,
              color: '#000',
              font: { family: FONT, size: 42, lineHeight: 1.2 },
              callback: (v: any) => Number(v).toFixed(dec),
            },
            grid: { color: '#bdbdbd', lineWidth: 3, drawTicks: false },
            border: { display: false },
            title: {
              display: true,
              text: yTitle,
              color: '#000',
              font: { family: FONT, size: TITLE_FONT, lineHeight: 1.2 },
              padding: 0,
            },
          },
        },
      } as any,
    });
    return () => chart.destroy();
  }, [idx]);

  return (
    <canvas
      ref={ref}
      width={W}
      height={CANVAS_H}
      style={{ position: 'absolute', left: L, top: T, width: W, height: CANVAS_H }}
    />
  );
}

const legendLineX = [692, 901, 1154, 1407, 1661];
const legendTextX = [752, 973, 1227, 1476, 1733];

function Legend() {
  return (
    <>
      {forceLabels.map((f, k) => {
        const st = styles[k];
        return (
          <React.Fragment key={k}>
            <svg width={60} height={44} style={{ position: 'absolute', left: legendLineX[k], top: 0 }}>
              <line x1={0} y1={23} x2={60} y2={23} stroke={st.color} strokeWidth={st.width + 0.4}
                strokeDasharray={st.dash.length ? st.dash.join(' ') : undefined} />
              {k === 3 && <circle cx={30} cy={23} r={5} fill={st.color} />}
              {k === 4 && <rect x={24.5} y={17.5} width={11} height={11} fill="#ffffff" stroke="#000" strokeWidth={3.2} />}
            </svg>
            <div style={{ position: 'absolute', left: legendTextX[k], top: 1, fontFamily: FONT, fontSize: 42, lineHeight: '42px', whiteSpace: 'nowrap', color: '#000' }}>
              <i>F</i><span style={{ fontSize: 26, position: 'relative', top: 8 }}>n</span>={f} N
            </div>
          </React.Fragment>
        );
      })}
    </>
  );
}

export default function App() {
  return (
    <div style={{ position: 'absolute', left: 0, top: 0, width: 2520, height: 2365, background: '#ffffff', overflow: 'hidden' }}>
      <Legend />
      {captions.map((_, i) => <PanelChart key={i} idx={i} />)}
    </div>
  );
}
